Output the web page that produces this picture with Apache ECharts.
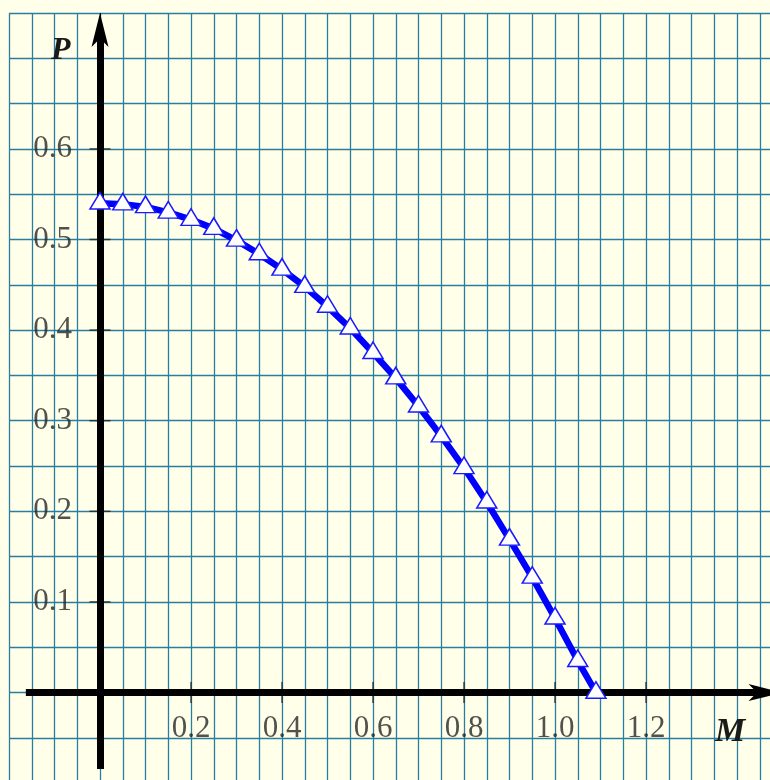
<!DOCTYPE html>
<html>
<head>
<meta charset="utf-8">
<script src="https://cdn.jsdelivr.net/npm/echarts@6/dist/echarts.min.js"></script>
<style>
html,body{margin:0;padding:0;background:#ffffea;}
#chart{width:770px;height:780px;}
</style>
</head>
<body>
<div id="chart"></div>
<script>
// Data
const mValues = [0, 0.05, 0.10, 0.15, 0.20, 0.25, 0.30, 0.35, 0.40, 0.45, 0.50, 0.55,
                 0.60, 0.65, 0.70, 0.75, 0.80, 0.85, 0.90, 0.95, 1.00, 1.05, 1.09];
const pValues = [0.540, 0.539, 0.536, 0.530, 0.522, 0.512, 0.499, 0.484, 0.467, 0.448, 0.426, 0.402,
                 0.375, 0.347, 0.316, 0.283, 0.248, 0.210, 0.169, 0.127, 0.082, 0.035, 0.000];
const xTickLabels = ['0.2', '0.4', '0.6', '0.8', '1.0', '1.2'];
const yTickLabels = ['0.1', '0.2', '0.3', '0.4', '0.5', '0.6'];
const xAxisTitle = 'M';
const yAxisTitle = 'P';

const chart = echarts.init(document.getElementById('chart'), null, {renderer: 'canvas'});

const curve = mValues.map((m, i) => [m, pValues[i]]);
const xTicks = xTickLabels.map(s => ({name: s, value: [parseFloat(s), 0]}));
const yTicks = yTickLabels.map(s => ({name: s, value: [0, parseFloat(s)]}));

const gridColor = '#2a7da0';
const labelFont = {fontFamily: 'Liberation Serif', fontSize: 31, color: '#262626'};

const option = {
  backgroundColor: '#ffffea',
  animation: false,
  grid: {left: 9, top: 13, width: 773.5, height: 770.1, containLabel: false, outerBoundsMode: 'none'},
  xAxis: {
    type: 'value', min: -0.2, max: 1.5, interval: 0.05,
    axisLine: {show: false},
    axisTick: {show: false},
    axisLabel: {show: false},
    splitLine: {show: true, lineStyle: {color: gridColor, width: 1.3}}
  },
  yAxis: {
    type: 'value', min: -0.1, max: 0.75, interval: 0.05,
    axisLine: {show: false},
    axisTick: {show: false},
    axisLabel: {show: false},
    splitLine: {show: true, lineStyle: {color: gridColor, width: 1.3}}
  },
  series: [
    {
      type: 'scatter', name: 'axes', silent: true, z: 3,
      data: [],
      markLine: {
        silent: true, animation: false,
        label: {show: false},
        emphasis: {disabled: true},
        data: [
          [{coord: [-0.163, 0], symbol: 'none'}, {coord: [1.456, 0], symbol: 'none', lineStyle: {color: '#000', width: 7, type: 'solid'}}],
          [{coord: [0, -0.0844], symbol: 'none'}, {coord: [0, 0.728], symbol: 'none', lineStyle: {color: '#000', width: 7, type: 'solid'}}],
          [{coord: [1.46, 0], symbol: 'none'}, {coord: [1.5, 0], symbol: 'arrow', symbolSize: [12.75, 34], lineStyle: {color: '#000', width: 1, type: 'solid'}}],
          [{coord: [0, 0.70], symbol: 'none'}, {coord: [0, 0.75], symbol: 'arrow', symbolSize: [12.75, 34], lineStyle: {color: '#000', width: 1, type: 'solid'}}]
        ],
        lineStyle: {color: '#000', type: 'solid'}
      }
    },
    {
      type: 'scatter', name: 'xticks', silent: true, z: 4,
      symbol: 'rect', symbolSize: [1.5, 21],
      itemStyle: {color: '#222'},
      label: Object.assign({show: true, position: 'bottom', distance: 10, formatter: '{b}'}, labelFont),
      labelLayout: {hideOverlap: false},
      data: xTicks
    },
    {
      type: 'scatter', name: 'yticks', silent: true, z: 4,
      symbol: 'rect', symbolSize: [21, 1.5],
      itemStyle: {color: '#222'},
      label: Object.assign({show: true, position: 'left', distance: 17.5, formatter: '{b}'}, labelFont),
      labelLayout: {hideOverlap: false},
      data: yTicks
    },
    {
      type: 'line', name: 'P(M)', z: 5,
      data: curve,
      lineStyle: {color: '#0000ff', width: 6.5},
      symbol: 'triangle', symbolSize: [20, 16.5], symbolOffset: [0, -2.5],
      showAllSymbol: true,
      itemStyle: {color: '#ffffff', borderColor: '#1a1aff', borderWidth: 1.5},
      emphasis: {disabled: true}
    }
  ],
  graphic: [
    {type: 'text', left: 51, top: 35, z: 10,
     style: {text: yAxisTitle, font: 'italic bold 32px "Liberation Serif"', fill: '#1a1a1a'}},
    {type: 'text', left: 715, top: 715, z: 10,
     style: {text: xAxisTitle, font: 'italic bold 34px "Liberation Serif"', fill: '#1a1a1a'}}
  ]
};
chart.setOption(option);
</script>
</body>
</html>
